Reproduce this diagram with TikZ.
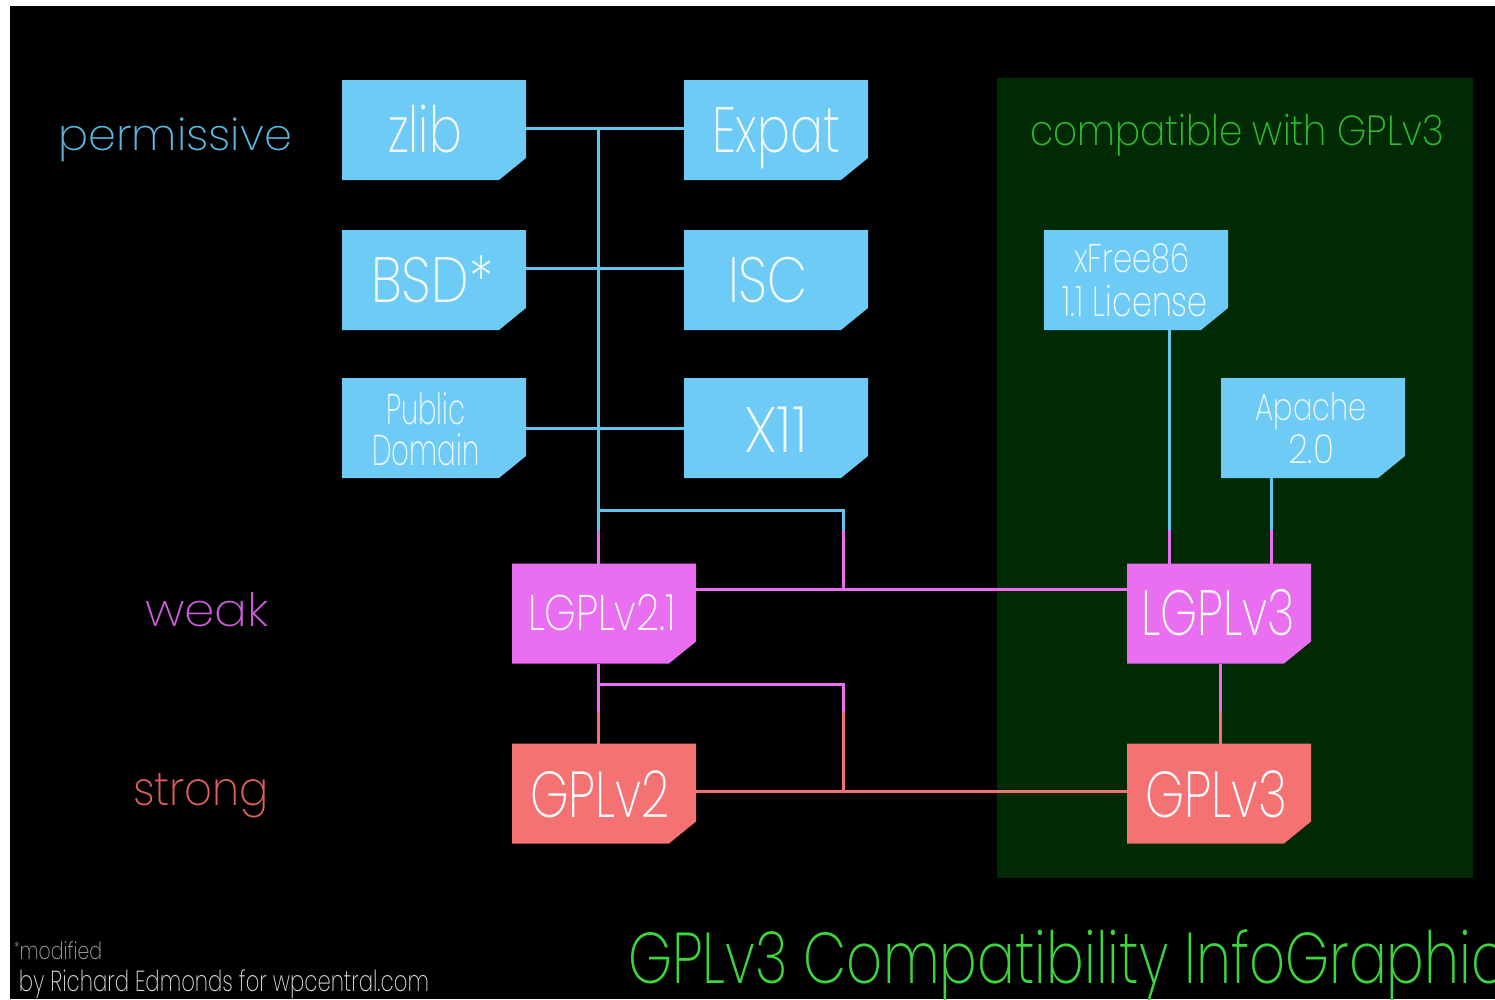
\documentclass[tikz,border=0pt]{standalone}
\usepackage{fontspec}
\usepackage{graphicx}
\setmainfont{Poppins ExtraLight}
\usetikzlibrary{calc}
\definecolor{panel}{HTML}{002A04}
\definecolor{lblue}{HTML}{6ECBF5}
\definecolor{lmag}{HTML}{E96EF0}
\definecolor{lred}{HTML}{F47272}
\definecolor{cblue}{HTML}{60C6EE}
\definecolor{tblue}{HTML}{58B8E0}
\definecolor{tmag}{HTML}{C95CD6}
\definecolor{tred}{HTML}{E0605E}
\definecolor{tgreen}{HTML}{2FBE2F}
\definecolor{ttitle}{HTML}{3CD63C}
\definecolor{inner}{HTML}{F4FBFF}
\definecolor{foot}{HTML}{D8D8D8}
\definecolor{footb}{HTML}{A8A8A8}
\newcommand\fw[2]{\resizebox{#1pt}{\height}{#2}}
\newcommand\fs[1]{\fontsize{#1}{#1}\selectfont}
\newcommand\licbox[4]{%
  \node[boxn] (#1) at (#2,#3) {};
  \fill[#4] (#1.north west) -- (#1.north east) -- ([yshift=22pt]#1.south east)
    -- ([xshift=-27pt]#1.south east) -- (#1.south west) -- cycle;
}
\tikzset{
  boxn/.style={rectangle, minimum width=184pt, minimum height=100pt, inner sep=0pt, outer sep=0pt},
  btxt/.style={inner sep=0pt, outer sep=0pt, text=inner, anchor=base},
  ltxt/.style={inner sep=0pt, outer sep=0pt, anchor=base west},
  bline/.style={draw=cblue, line width=3pt},
  mline/.style={draw=lmag, line width=3pt},
  rline/.style={draw=lred, line width=3pt},
}
\begin{document}
\begin{tikzpicture}[x=1pt,y=-1pt]
\useasboundingbox (0,0) rectangle (1495,999);
\fill[white] (0,0) rectangle (1495,999);
\fill[black] (10,6) rectangle (1495,999);
\fill[panel] (997,78) rectangle (1473,878);

% box placeholders (for anchors)
\node[boxn] (zlib) at (434,130) {};
\node[boxn] (Expat) at (776,130) {};
\node[boxn] (BSD) at (434,280) {};
\node[boxn] (ISC) at (776,280) {};
\node[boxn] (PD) at (434,428) {};
\node[boxn] (X11) at (776,428) {};
\node[boxn] (xFree) at (1136,280) {};
\node[boxn] (Apache) at (1313,428) {};
\node[boxn] (LGPL21) at (604,613.5) {};
\node[boxn] (LGPL3) at (1219,613.5) {};
\node[boxn] (GPL2) at (604,793.5) {};
\node[boxn] (GPL3) at (1219,793.5) {};

% connectors
\coordinate (tTop) at (598,128);
\coordinate (tMid) at (598,530);
\coordinate (b1) at (598,510);
\coordinate (b2) at (843,510);
\coordinate (b3) at (843,530);
\coordinate (b4) at (843,589);
\coordinate (x1) at (1169,530);
\coordinate (a1) at (1271,530);
\coordinate (l1) at (598,684);
\coordinate (l2) at (843,684);
\coordinate (l3) at (598,712);
\coordinate (l4) at (843,712);
\coordinate (l5) at (843,791);
\coordinate (r1) at (1220,712);

\draw[bline] ([yshift=2pt]zlib.east) -- ([yshift=2pt]Expat.west);
\draw[bline] ([yshift=12pt]BSD.east) -- ([yshift=12pt]ISC.west);
\draw[bline] (PD.east) -- (X11.west);
\draw[bline] (tTop) -- (tMid);
\draw[mline] (tMid) -- (tMid |- LGPL21.north);
\draw[bline] (b1) -- (b2) -- (b3);
\draw[mline] (b3) -- (b4);
\draw[mline] ([yshift=24.5pt]LGPL21.east) -- ([yshift=24.5pt]LGPL3.west);
\draw[bline] (x1 |- xFree.south) -- (x1);
\draw[mline] (x1) -- (x1 |- LGPL3.north);
\draw[bline] (a1 |- Apache.south) -- (a1);
\draw[mline] (a1) -- (a1 |- LGPL3.north);
\draw[mline] (l1 |- LGPL21.south) -- (l3);
\draw[mline] (l1) -- (l2) -- (l4);
\draw[rline] (l3) -- (l3 |- GPL2.north);
\draw[rline] (l4) -- (l5);
\draw[rline] ([yshift=2.5pt]GPL2.east) -- ([yshift=2.5pt]GPL3.west);
\draw[mline] (r1 |- LGPL3.south) -- (r1);
\draw[rline] (r1) -- (r1 |- GPL3.north);

% boxes
\licbox{zlib}{434}{130}{lblue}
\licbox{Expat}{776}{130}{lblue}
\licbox{BSD}{434}{280}{lblue}
\licbox{ISC}{776}{280}{lblue}
\licbox{PD}{434}{428}{lblue}
\licbox{X11}{776}{428}{lblue}
\licbox{xFree}{1136}{280}{lblue}
\licbox{Apache}{1313}{428}{lblue}
\licbox{LGPL21}{604}{613.5}{lmag}
\licbox{LGPL3}{1219}{613.5}{lmag}
\licbox{GPL2}{604}{793.5}{lred}
\licbox{GPL3}{1219}{793.5}{lred}

% box texts
\node[btxt] (zlibT) at (425,152) {\fs{64}\fw{74}{zlib}};
\node[btxt] (ExpatT) at (776,152) {\fs{64}\fw{128}{Expat}};
\node[btxt] (BSDT) at (432,302) {\fs{64}\fw{122}{BSD*}};
\node[btxt] (ISCT) at (768,302) {\fs{64}\fw{80}{ISC}};
\node[btxt] (PDT1) at (426,424) {\fs{43}\fw{79}{Public}};
\node[btxt] (PDT2) at (426,465) {\fs{43}\fw{107}{Domain}};
\node[btxt] (X11T) at (776,452) {\fs{64}\fw{64}{X11}};
\node[btxt] (xFreeT1) at (1132,272) {\fs{40}\fw{115}{xFree86}};
\node[btxt] (xFreeT2) at (1135,316) {\fs{42}\fw{145}{1.1 License}};
\node[btxt] (ApacheT1) at (1311,420) {\fs{38}\fw{111}{Apache}};
\node[btxt] (ApacheT2) at (1311,463) {\fs{40}\fw{46}{2.0}};
\node[btxt] (LGPL21T) at (602,630) {\fs{50}\fw{148}{LGPLv2.1}};
\node[btxt] (LGPL3T) at (1218,635) {\fs{64}\fw{154}{LGPLv3}};
\node[btxt] (GPL2T) at (600,817) {\fs{65}\fw{140}{GPLv2}};
\node[btxt] (GPL3T) at (1216,817) {\fs{65}\fw{142}{GPLv3}};

% labels
\node[ltxt, text=tblue] (perm) at (58,150) {\fs{44}\fw{234}{permissive}};
\node[ltxt, text=tmag] (weak) at (145,626) {\fs{46}\fw{124}{weak}};
\node[ltxt, text=tred] (strong) at (133,805) {\fs{47}\fw{136}{strong}};
\node[ltxt, text=tgreen] (compat) at (1030,145) {\fs{42}\fw{414}{compatible with GPLv3}};
\node[ltxt, text=ttitle] (title) at (628,983) {\fs{72}\fw{878}{GPLv3 Compatibility InfoGraphic}};
\node[ltxt, text=footb] (mod) at (14,959) {\fs{24}\fw{88}{\raisebox{6pt}{\fs{16}*}modified}};
\node[ltxt, text=foot] (by) at (19,991) {\fs{29}\fw{410}{by Richard Edmonds for wpcentral.com}};
\end{tikzpicture}
\end{document}
